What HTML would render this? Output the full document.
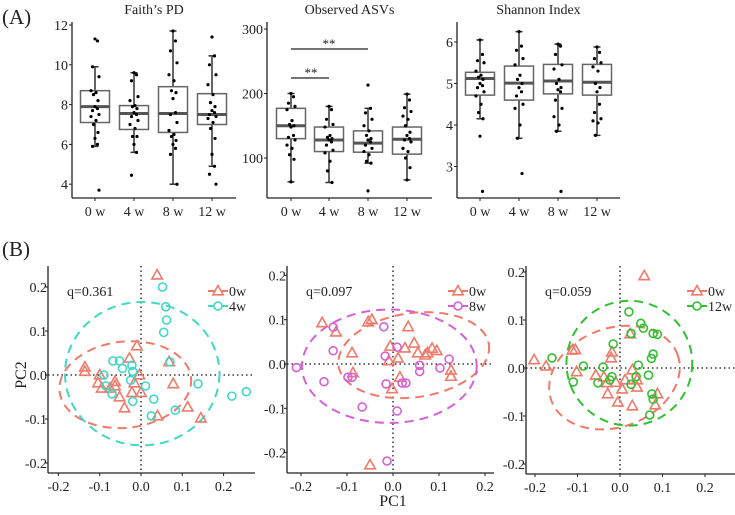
<!DOCTYPE html>
<html><head><meta charset="utf-8"><style>
body{margin:0;background:#fff;}
svg{display:block;font-family:"Liberation Serif",serif;}
</style></head><body>
<svg id="fig" width="735" height="515" viewBox="0 0 735 515" xmlns="http://www.w3.org/2000/svg"></svg>
<script>
// ---------- Panel A data ----------
const boxCats = ["0 w","4 w","8 w","12 w"];
const faithStats = [[5.9,7.1,7.9,8.7,9.9],[5.6,6.75,7.55,7.95,9.6],[4.0,6.6,7.55,8.9,11.7],[4.9,7.0,7.5,8.55,10.45]];
const faithPts = [[11.3,11.2,9.9,9.4,8.7,8.6,8.5,8.2,7.9,7.8,7.7,7.5,7.4,7.2,7.0,6.6,6.3,6.0,5.9,3.7],
 [9.6,9.5,9.2,8.4,8.2,7.95,7.9,7.8,7.6,7.5,7.4,7.2,7.0,6.8,6.4,6.4,6.0,5.6,4.45],
 [11.7,11.2,10.7,10.1,9.5,9.2,8.7,8.6,8.3,7.6,7.5,7.1,6.7,6.5,6.4,6.2,6.0,5.8,5.5,4.0],
 [11.4,10.45,10.0,9.5,9.0,8.5,8.1,7.9,7.7,7.6,7.5,7.4,7.3,7.1,6.8,6.3,5.5,4.9,4.5,4.0]];
const asvStats = [[63,130,150,177,200],[62,110,128,148,180],[92,109,123,142,177],[66,106,129,148,199]];
const asvPts = [[200,195,185,180,175,158,152,150,148,135,132,128,120,115,105,98,63],
 [180,175,160,152,148,135,132,130,128,125,120,112,108,95,80,62],
 [213,177,170,160,150,142,135,130,128,125,120,115,110,105,95,92,49],
 [199,190,178,172,165,160,150,140,135,130,128,125,115,110,100,85,66]];
const shanStats = [[4.15,4.72,5.12,5.27,6.05],[3.68,4.6,5.01,5.42,6.25],[3.85,4.75,5.06,5.46,5.95],[3.75,4.72,5.03,5.46,5.88]];
const shanPts = [[6.05,5.7,5.55,5.5,5.3,5.2,5.15,5.1,5.0,4.95,4.9,4.8,4.7,4.5,4.3,4.15,3.73,2.4],
 [6.25,5.9,5.8,5.6,5.45,5.2,5.1,5.0,4.9,4.8,4.7,4.5,4.4,4.0,3.68,2.83],
 [5.95,5.9,5.7,5.45,5.35,5.1,5.0,4.9,4.85,4.8,4.6,4.4,4.2,4.0,3.85,2.4],
 [5.88,5.75,5.6,5.5,5.4,5.3,5.0,4.9,4.8,4.5,4.3,4.15,4.1,4.05,3.75]];
const faithTicks = [4,6,8,10,12];
const asvTicks = [100,200,300];
const shanTicks = [3,4,5,6];

// ---------- Panel B data ----------
const pcTicks = [-0.2,-0.1,0.0,0.1,0.2];
const b1Tri = [[0.039,0.227],[-0.01,0.066],[-0.136,0.018],[-0.136,0.008],[-0.10,0.0],[-0.104,-0.018],[-0.095,-0.03],[-0.063,-0.015],[-0.063,-0.025],[-0.075,-0.03],[-0.028,0.038],[-0.004,0.0],[-0.016,-0.018],[-0.022,-0.04],[0.0,-0.04],[-0.052,-0.05],[-0.04,-0.075],[0.068,0.03],[0.078,-0.02],[0.04,-0.093],[0.113,-0.073],[0.145,-0.098]];
const b1Cir = [[0.052,0.2],[0.06,0.155],[0.062,0.125],[0.055,0.097],[0.07,0.03],[-0.068,0.032],[-0.052,0.032],[-0.045,0.015],[-0.022,0.022],[-0.02,0.008],[-0.09,0.0],[-0.025,-0.012],[0.011,-0.025],[-0.07,-0.043],[-0.02,-0.06],[0.031,-0.055],[0.025,-0.093],[0.083,-0.08],[0.138,-0.02],[0.22,-0.048],[0.255,-0.038],[-0.085,-0.025]];
const b2Tri = [[-0.154,0.093],[-0.124,0.072],[-0.089,0.025],[-0.087,-0.02],[-0.054,0.095],[-0.05,-0.228],[-0.046,0.1],[0.033,0.084],[-0.006,0.04],[0.011,0.013],[-0.009,0.007],[0.026,0.036],[0.046,0.047],[0.054,0.025],[0.07,0.02],[0.085,0.035],[0.095,0.03],[0.075,0.025],[0.126,-0.014],[0.126,-0.028],[0.015,-0.03],[-0.002,-0.056]];
const b2Cir = [[-0.21,-0.008],[-0.13,0.083],[-0.13,0.03],[-0.15,-0.04],[-0.098,-0.03],[-0.089,-0.03],[-0.067,-0.097],[-0.02,0.084],[-0.017,0.018],[0.009,0.038],[0.058,-0.003],[0.058,-0.017],[0.102,-0.009],[0.122,0.011],[-0.015,-0.045],[0.02,-0.043],[0.028,-0.043],[0.009,-0.106],[-0.013,-0.219]];
const b3Tri = [[0.057,0.192],[-0.202,0.017],[-0.174,0.004],[-0.112,0.037],[-0.105,0.038],[-0.102,-0.008],[-0.019,0.033],[-0.021,0.021],[0.024,0.071],[-0.057,-0.015],[-0.038,-0.019],[-0.031,-0.031],[-0.01,-0.03],[0.005,-0.044],[-0.029,-0.054],[-0.005,-0.071],[0.029,-0.079],[0.012,-0.025],[0.029,-0.004],[0.04,-0.025],[0.04,-0.04],[0.083,-0.077],[0.088,-0.054]];
const b3Cir = [[-0.16,0.021],[-0.11,-0.029],[-0.086,0.004],[-0.052,-0.031],[-0.04,0.002],[-0.016,0.05],[-0.019,-0.018],[-0.024,-0.025],[0.021,0.117],[0.026,0.072],[0.049,0.093],[0.055,0.083],[0.078,0.072],[0.088,0.07],[0.078,0.029],[0.074,0.02],[0.043,0.006],[0.067,-0.015],[0.038,-0.018],[0.026,-0.034],[0.075,-0.054],[0.078,-0.065],[0.07,-0.098]];
// ellipses: [cx, cy, rx, ry, angle(deg)] in data units
const b1Ell = [[-0.038,-0.022,0.16,0.098,-6],[0.003,0.003,0.187,0.163,0]];
const b2Ell = [[0.045,0.02,0.165,0.095,-8],[-0.008,-0.005,0.19,0.128,0]];
const b3Ell = [[-0.013,-0.02,0.158,0.103,-20],[0.022,0.01,0.148,0.13,0]];

const NS="http://www.w3.org/2000/svg";
const svg=document.getElementById('fig');
function mk(tag,attrs,parent){const e=document.createElementNS(NS,tag);for(const k in attrs)e.setAttribute(k,attrs[k]);(parent||svg).appendChild(e);return e;}
function txt(s,x,y,size,anchor,parent){const t=mk('text',{x:x,y:y,'font-size':size,'text-anchor':anchor||'middle',fill:'#222'},parent);t.textContent=s;return t;}

let t=txt("(A)",2,24,21,'start');
t=txt("(B)",2,256,21,'start');

function boxPanel(name,title,x0,x1,ytop,ybot,yfn,ticks,stats,pts,catX){
  const g=mk('g',{});
  
  
  let tt=txt(title,(x0+x1)/2,14,14,'middle',g);
  
  
  mk('line',{x1:x0,y1:ytop,x2:x0,y2:ybot,stroke:'#222','stroke-width':1.3},g);
  mk('line',{x1:x0,y1:ybot,x2:x1,y2:ybot,stroke:'#222','stroke-width':1.3},g);
  ticks.forEach(v=>{const y=yfn(v);mk('line',{x1:x0-3,y1:y,x2:x0,y2:y,stroke:'#222'},g);
    const l=txt(String(v),x0-4,y+5,14,'end',g);});
  boxCats.forEach((c,i)=>{const cx=catX[i];
    mk('line',{x1:cx,y1:ybot,x2:cx,y2:ybot+3,stroke:'#222'},g);
    const l=txt(c,cx,ybot+18,14,'middle',g);
    const s=stats[i];const w=14.5;
    const wl=mk('line',{x1:cx,y1:yfn(s[0]),x2:cx,y2:yfn(s[4]),stroke:'#333','stroke-width':1.5},g);
    
    mk('line',{x1:cx-3.5,y1:yfn(s[0]),x2:cx+3.5,y2:yfn(s[0]),stroke:'#333','stroke-width':1.5},g);
    mk('line',{x1:cx-3.5,y1:yfn(s[4]),x2:cx+3.5,y2:yfn(s[4]),stroke:'#333','stroke-width':1.5},g);
    const b=mk('rect',{x:cx-w,y:yfn(s[3]),width:2*w,height:yfn(s[1])-yfn(s[3]),fill:'#fff',stroke:'#666','stroke-width':1.5},g);
    
    mk('line',{x1:cx-w,y1:yfn(s[2]),x2:cx+w,y2:yfn(s[2]),stroke:'#555','stroke-width':3},g);
    pts[i].forEach((v,j)=>{const off=[0,2.5,-2.5,4,-4,1,-1.5,3][j%8];
      const p=mk('circle',{cx:cx+off,cy:yfn(v),r:1.6,fill:'#000'},g);
      });
  });
  return g;
}
boxPanel('faiths-pd-chart',"Faith’s PD",72,236,22,198,v=>25+(12-v)*19.9,faithTicks,faithStats,faithPts,[95,134,173,212]);
const ga=boxPanel('observed-asvs-chart',"Observed ASVs",267,432,22,198,v=>29+(300-v)*0.645,asvTicks,asvStats,asvPts,[291,329,368,407]);
boxPanel('shannon-index-chart',"Shannon Index",457,620,22,198,v=>42+(6-v)*41.5,shanTicks,shanStats,shanPts,[480,519,558,597]);
let s1=mk('line',{x1:291,y1:78,x2:329,y2:78,stroke:'#222','stroke-width':1.2},ga);

txt("**",311,77,13,'middle',ga);
let s2=mk('line',{x1:291,y1:49,x2:368,y2:49,stroke:'#222','stroke-width':1.2},ga);

txt("**",329,48,13,'middle',ga);

const RED='#f07a6a';
function pcoa(name,ax,xfn,yfn,ytop,ybot,xEnd,tri,cir,ell,col,q,legLab,legX){
  const g=mk('g',{});
  
  
  mk('line',{x1:ax,y1:yfn(0),x2:xEnd,y2:yfn(0),stroke:'#111','stroke-width':1.3,'stroke-dasharray':'1.5,3'},g);
  mk('line',{x1:xfn(0),y1:ytop,x2:xfn(0),y2:ybot,stroke:'#111','stroke-width':1.3,'stroke-dasharray':'1.5,3'},g);
  mk('line',{x1:ax,y1:ytop,x2:ax,y2:ybot,stroke:'#222','stroke-width':1.3},g);
  mk('line',{x1:ax,y1:ybot,x2:xEnd,y2:ybot,stroke:'#222','stroke-width':1.3},g);
  pcTicks.forEach(v=>{const y=yfn(v);mk('line',{x1:ax-3,y1:y,x2:ax,y2:y,stroke:'#222'},g);
    const l=txt(v.toFixed(1),ax-1,y+5,14,'end',g);
    const x=xfn(v);mk('line',{x1:x,y1:ybot,x2:x,y2:ybot+3,stroke:'#222'},g);
    const l2=txt(v.toFixed(1),x,ybot+18,14,'middle',g);});
  const cols=[RED,col];
  ell.forEach((e,i)=>{const cx=xfn(e[0]),cy=yfn(e[1]);const rx=Math.abs(xfn(e[2])-xfn(0)),ry=Math.abs(yfn(e[3])-yfn(0));
    const el=mk('ellipse',{cx:cx,cy:cy,rx:rx,ry:ry,transform:`rotate(${e[4]} ${cx} ${cy})`,fill:'none',stroke:cols[i],'stroke-width':2,'stroke-dasharray':'9,6'},g);
    });
  function triPath(x,y,r){return `M${x},${y-r} L${x+r*0.95},${y+r*0.7} L${x-r*0.95},${y+r*0.7}Z`;}
  tri.forEach(p=>{const m=mk('path',{d:triPath(xfn(p[0]),yfn(p[1]),5.5),fill:'none',stroke:RED,'stroke-width':1.6},g);
    });
  cir.forEach(p=>{const m=mk('circle',{cx:xfn(p[0]),cy:yfn(p[1]),r:4,fill:'none',stroke:col,'stroke-width':1.6},g);
    });
  const qt=txt(q,ax+19,ytop+30,14,'start',g);
  const lg=mk('g',{},g);
  
  
  const ly=ytop+25;
  mk('line',{x1:legX,y1:ly,x2:legX+20,y2:ly,stroke:RED,'stroke-width':2},lg);
  mk('path',{d:triPath(legX+10,ly,5.5),fill:'#fff',stroke:RED,'stroke-width':1.6},lg);
  txt("0w",legX+21,ly+5,14,'start',lg);
  mk('line',{x1:legX,y1:ly+15,x2:legX+20,y2:ly+15,stroke:col,'stroke-width':2},lg);
  mk('circle',{cx:legX+10,cy:ly+15,r:4,fill:'#fff',stroke:col,'stroke-width':1.6},lg);
  txt(legLab,legX+21,ly+20,14,'start',lg);
}
pcoa('pcoa-0w-vs-4w',48,d=>141+d*413,d=>375-d*440,266,473,255,b1Tri,b1Cir,b1Ell,'#40d8c8','q=0.361','4w',208);
pcoa('pcoa-0w-vs-8w',287,d=>393+d*460,d=>364-d*443,266,473,494,b2Tri,b2Cir,b2Ell,'#d660d8','q=0.097','8w',448);
pcoa('pcoa-0w-vs-12w',526,d=>620+d*425,d=>368-d*480,266,474,735,b3Tri,b3Cir,b3Ell,'#30c030','q=0.059','12w',687);
t=txt("PC1",393,506,16,'middle');
t=txt("PC2",0,0,16,'middle');t.setAttribute('transform','translate(26,375) rotate(-90)');

</script>
</body></html>
